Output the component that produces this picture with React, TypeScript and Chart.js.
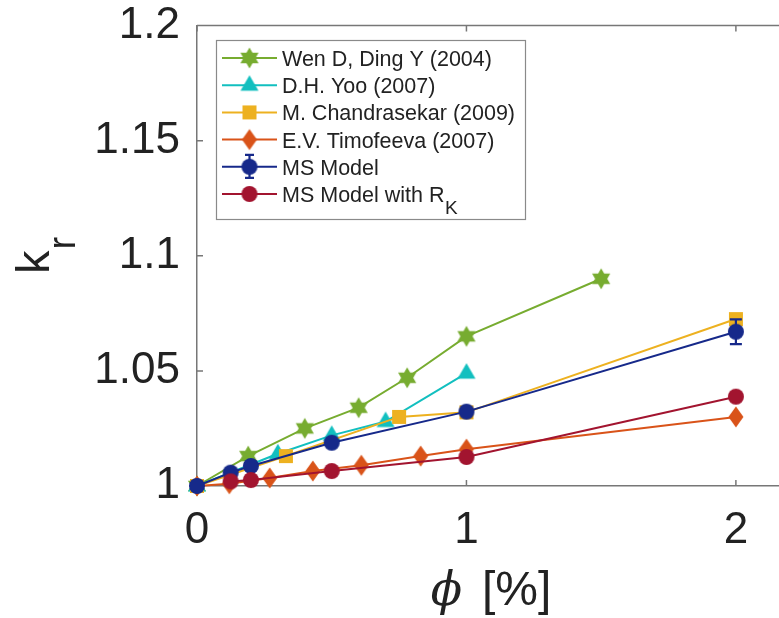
import React, { useEffect, useRef } from "react";
import { Chart, registerables } from "chart.js";

Chart.register(...registerables);

// ---- data ----
const wenX = [0, 0.19, 0.4, 0.6, 0.78, 1.0, 1.5];
const wenY = [1.0, 1.013, 1.025, 1.034, 1.047, 1.065, 1.09];
const yooX = [0, 0.3, 0.5, 0.7, 1.0];
const yooY = [1.0, 1.014, 1.022, 1.028, 1.049];
const chanX = [0, 0.33, 0.75, 1.0, 2.0];
const chanY = [1.0, 1.013, 1.03, 1.032, 1.0725];
const timX = [0, 0.12, 0.27, 0.43, 0.61, 0.83, 1.0, 2.0];
const timY = [1.0, 1.001, 1.0035, 1.0065, 1.009, 1.013, 1.016, 1.03];
const msX = [0, 0.125, 0.2, 0.5, 1.0, 2.0];
const msY = [1.0, 1.0058, 1.0087, 1.0188, 1.0323, 1.067];
const msErr = [0, 0, 0, 0, 0, 0.0054];
const rkX = [0.125, 0.2, 0.5, 1.0, 2.0];
const rkY = [1.002, 1.0026, 1.0065, 1.0126, 1.0388];

const xTicks = [0, 1, 2];
const yTicks = [1, 1.05, 1.1, 1.15, 1.2];
const yTickLabels = ["1", "1.05", "1.1", "1.15", "1.2"];
const xTickLabels = ["0", "1", "2"];

const seriesNames = [
  "Wen D, Ding Y (2004)",
  "D.H. Yoo (2007)",
  "M. Chandrasekar (2009)",
  "E.V. Timofeeva (2007)",
  "MS Model",
  "MS Model with R",
];
const seriesColors = ["#77AC30", "#12BFBF", "#EDB120", "#D95319", "#16298A", "#A2142F"];
const seriesMarkers = ["hexagram", "triangle", "square", "diamond", "circle", "circle"];

const SANS = '"Liberation Sans", Arial, Helvetica, sans-serif';
const AXIS_COLOR = "#777777";
const TEXT_COLOR = "#222222";

function makeMarker(kind: string, color: string): HTMLCanvasElement {
  const S = 26;
  const c = document.createElement("canvas");
  c.width = S;
  c.height = S;
  const ctx = c.getContext("2d")!;
  const m = S / 2;
  ctx.fillStyle = color;
  ctx.beginPath();
  if (kind === "circle") {
    ctx.arc(m, m, 8, 0, Math.PI * 2);
  } else if (kind === "square") {
    ctx.rect(m - 7, m - 7, 14, 14);
  } else if (kind === "triangle") {
    ctx.moveTo(m, m - 10);
    ctx.lineTo(m + 9, m + 5.5);
    ctx.lineTo(m - 9, m + 5.5);
  } else if (kind === "diamond") {
    ctx.moveTo(m, m - 10.5);
    ctx.lineTo(m + 7.5, m);
    ctx.lineTo(m, m + 10.5);
    ctx.lineTo(m - 7.5, m);
  } else if (kind === "hexagram") {
    for (let i = 0; i < 12; i++) {
      const a = -Math.PI / 2 + (i * Math.PI) / 6;
      const r = i % 2 === 0 ? 10.5 : 6.06;
      const px = m + r * Math.cos(a);
      const py = m + r * Math.sin(a);
      if (i === 0) ctx.moveTo(px, py);
      else ctx.lineTo(px, py);
    }
  }
  ctx.closePath();
  ctx.fill();
  return c;
}

export default function App() {
  const ref = useRef<HTMLCanvasElement | null>(null);

  useEffect(() => {
    const canvas = ref.current;
    if (!canvas) return;
    const markers = seriesColors.map((c, i) => makeMarker(seriesMarkers[i], c));
    const xs = [wenX, yooX, chanX, timX, msX, rkX];
    const ys = [wenY, yooY, chanY, timY, msY, rkY];

    const datasets = xs.map((xArr, i) => ({
      label: seriesNames[i],
      data: xArr.map((x, j) => ({ x, y: ys[i][j] })),
      showLine: true,
      borderColor: seriesColors[i],
      backgroundColor: seriesColors[i],
      borderWidth: 2,
      pointStyle: markers[i],
      pointRadius: 8,
      pointHoverRadius: 8,
      clip: false as any,
      order: 10 - i,
    }));

    const decor = {
      id: "decor",
      beforeDatasetsDraw(chart: any) {
        const ctx = chart.ctx;
        const { left, right, top, bottom } = chart.chartArea;
        const xs = chart.scales.x;
        const ysc = chart.scales.y;
        ctx.save();
        ctx.strokeStyle = AXIS_COLOR;
        ctx.lineWidth = 1.5;
        ctx.beginPath();
        ctx.moveTo(left, top);
        ctx.lineTo(right, top);
        for (const v of xTicks) {
          const px = xs.getPixelForValue(v);
          ctx.moveTo(px, bottom);
          ctx.lineTo(px, bottom - 6);
          ctx.moveTo(px, top);
          ctx.lineTo(px, top + 6);
        }
        for (const v of yTicks) {
          const py = ysc.getPixelForValue(v);
          ctx.moveTo(left, py);
          ctx.lineTo(left + 6, py);
        }
        ctx.stroke();
        ctx.restore();
      },
      beforeDatasetDraw(chart: any, args: any) {
        if (args.index !== 4) return;
        const ctx = chart.ctx;
        const xs = chart.scales.x;
        const ysc = chart.scales.y;
        ctx.save();
        ctx.strokeStyle = seriesColors[4];
        ctx.lineWidth = 2.2;
        msX.forEach((x, j) => {
          const e = msErr[j];
          if (!e) return;
          const px = xs.getPixelForValue(x);
          const p1 = ysc.getPixelForValue(msY[j] + e);
          const p2 = ysc.getPixelForValue(msY[j] - e);
          ctx.beginPath();
          ctx.moveTo(px, p1);
          ctx.lineTo(px, p2);
          ctx.moveTo(px - 6, p1);
          ctx.lineTo(px + 6, p1);
          ctx.moveTo(px - 6, p2);
          ctx.lineTo(px + 6, p2);
          ctx.stroke();
        });
        ctx.restore();
      },
      afterDraw(chart: any) {
        const ctx = chart.ctx;
        const { left, right } = chart.chartArea;
        ctx.save();
        // x title: italic phi + [%]
        const fPhi = 'italic 46px "DejaVu Serif", serif';
        const fSans = "48px " + SANS;
        ctx.font = fPhi;
        const wPhi = ctx.measureText("\u03D5").width;
        ctx.font = fSans;
        const wRest = ctx.measureText("[%]").width;
        const gap = 20;
        const total = wPhi + gap + wRest;
        const cx = (left + right) / 2 + 3;
        const sx = cx - total / 2;
        ctx.fillStyle = TEXT_COLOR;
        ctx.textBaseline = "alphabetic";
        ctx.textAlign = "left";
        ctx.font = fPhi;
        ctx.fillText("\u03D5", sx, 605);
        ctx.font = fSans;
        ctx.fillText("[%]", sx + wPhi + gap, 605);

        // y title: k_r rotated
        ctx.save();
        ctx.translate(49, 274);
        ctx.rotate(-Math.PI / 2);
        ctx.font = "47px " + SANS;
        ctx.fillText("k", 0, 0);
        const wk = ctx.measureText("k").width;
        ctx.font = "38px " + SANS;
        ctx.fillText("r", wk + 1, 26);
        ctx.restore();

        // legend
        const bx = 216.5, by = 40.5, bw = 309, bh = 179;
        ctx.fillStyle = "#ffffff";
        ctx.fillRect(bx, by, bw, bh);
        ctx.strokeStyle = "#8a8a8a";
        ctx.lineWidth = 1.2;
        ctx.strokeRect(bx, by, bw, bh);
        for (let i = 0; i < seriesNames.length; i++) {
          const ry = 58 + 27.2 * i;
          ctx.strokeStyle = seriesColors[i];
          ctx.lineWidth = 2;
          ctx.beginPath();
          ctx.moveTo(222, ry);
          ctx.lineTo(277, ry);
          ctx.stroke();
          const mx = 249.5;
          if (i === 4) {
            ctx.lineWidth = 2.2;
            ctx.beginPath();
            ctx.moveTo(mx, ry - 12);
            ctx.lineTo(mx, ry + 11);
            ctx.moveTo(mx - 4.5, ry - 12);
            ctx.lineTo(mx + 4.5, ry - 12);
            ctx.moveTo(mx - 4.5, ry + 11);
            ctx.lineTo(mx + 4.5, ry + 11);
            ctx.stroke();
          }
          const mk = markers[i];
          ctx.drawImage(mk, mx - mk.width / 2, ry - mk.height / 2);
          ctx.fillStyle = TEXT_COLOR;
          ctx.font = "21.5px " + SANS;
          ctx.textAlign = "left";
          ctx.textBaseline = "alphabetic";
          ctx.fillText(seriesNames[i], 282, ry + 8);
          if (i === 5) {
            const w = ctx.measureText(seriesNames[i]).width;
            ctx.font = "19px " + SANS;
            ctx.fillText("K", 282 + w + 0.5, ry + 20);
          }
        }
        ctx.restore();
      },
    };

    const chart = new Chart(canvas, {
      type: "scatter",
      data: { datasets: datasets as any },
      options: {
        responsive: false,
        animation: false,
        devicePixelRatio: 1,
        events: [],
        layout: { autoPadding: false, padding: { top: 25.5, left: 0, right: 0, bottom: 0 } },
        plugins: {
          legend: { display: false },
          tooltip: { enabled: false },
        },
        scales: {
          x: {
            type: "linear",
            position: "bottom",
            min: 0,
            max: 2.16,
            afterFit: (s: any) => {
              s.height = 132;
              s.paddingLeft = 0;
              s.paddingRight = 0;
            },
            afterBuildTicks: (s: any) => {
              s.ticks = xTicks.map((v) => ({ value: v }));
            },
            ticks: {
              font: { family: SANS, size: 44 },
              color: TEXT_COLOR,
              padding: 18,
              autoSkip: false,
              maxRotation: 0,
              callback: (v: any) => xTickLabels[xTicks.indexOf(Number(v))] ?? String(v),
            },
            grid: { display: false, drawTicks: false },
            border: { display: true, color: AXIS_COLOR, width: 1.5 },
          },
          y: {
            type: "linear",
            position: "left",
            min: 1,
            max: 1.2,
            afterFit: (s: any) => {
              s.width = 197;
              s.paddingTop = 0;
              s.paddingBottom = 0;
            },
            afterBuildTicks: (s: any) => {
              s.ticks = yTicks.map((v) => ({ value: v }));
            },
            ticks: {
              font: { family: SANS, size: 44 },
              color: TEXT_COLOR,
              padding: 17,
              autoSkip: false,
              callback: (v: any) => {
                const idx = yTicks.findIndex((t) => Math.abs(t - Number(v)) < 1e-9);
                return idx >= 0 ? yTickLabels[idx] : String(v);
              },
            },
            grid: { display: false, drawTicks: false },
            border: { display: true, color: AXIS_COLOR, width: 1.5 },
          },
        },
      },
      plugins: [decor as any],
    });

    return () => {
      chart.destroy();
    };
  }, []);

  return (
    <div style={{ position: "absolute", left: 0, top: 0, width: 779, height: 618, background: "#fff" }}>
      <canvas ref={ref} width={779} height={618} style={{ display: "block", width: 779, height: 618 }} />
    </div>
  );
}
